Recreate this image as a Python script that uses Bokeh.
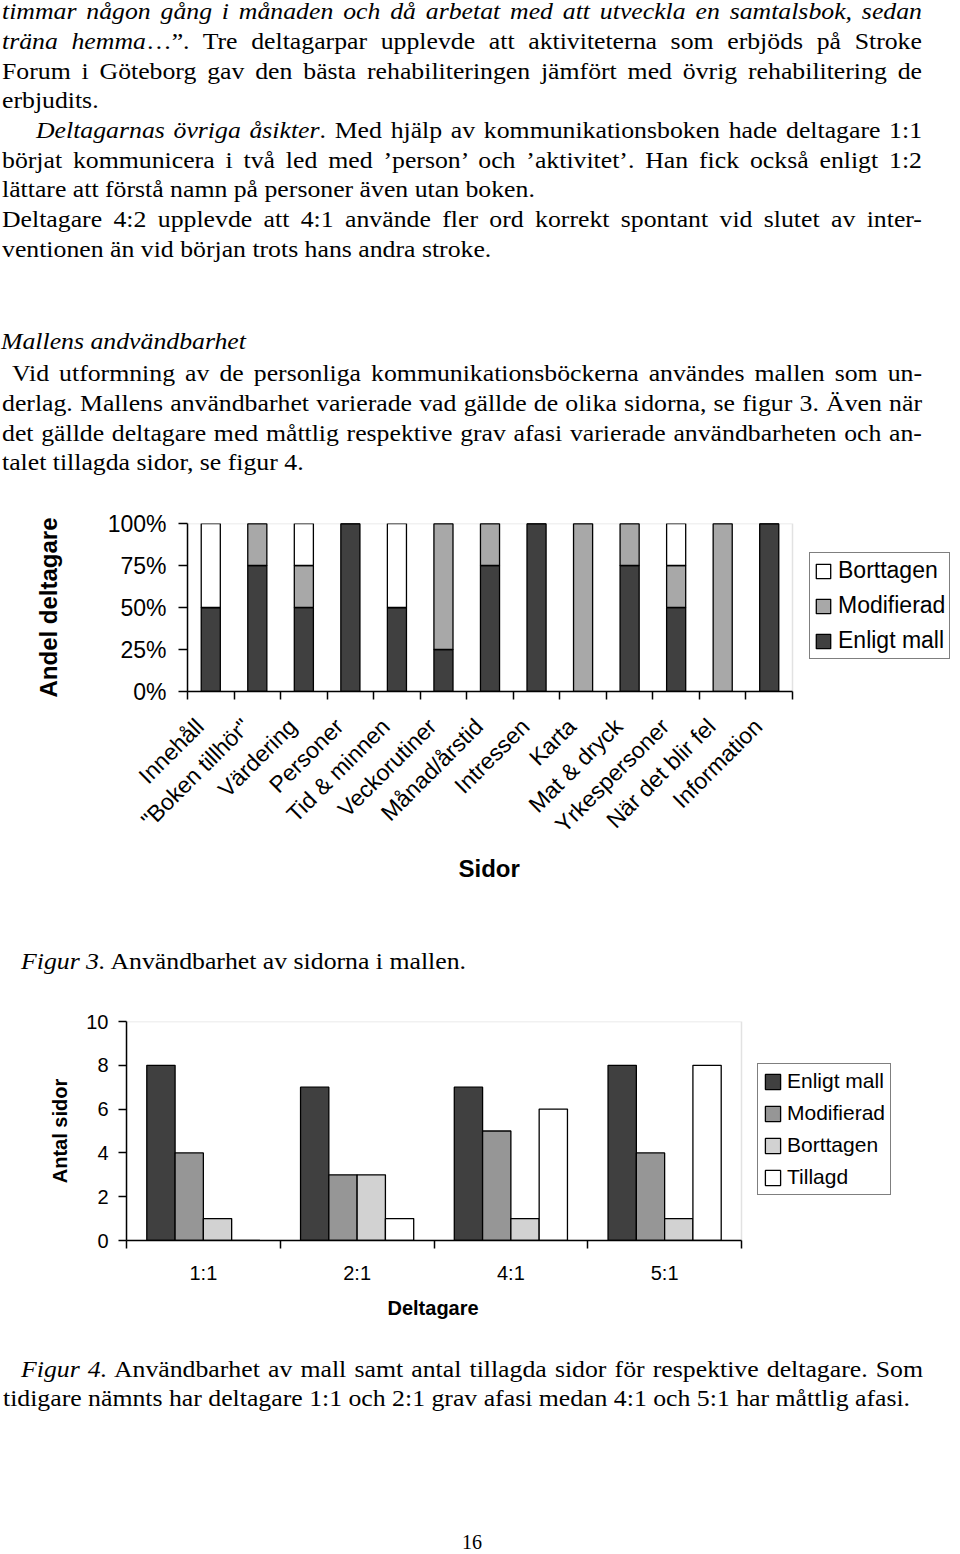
import math
from bokeh.plotting import figure
from bokeh.models import (Range1d, FixedTicker, PrintfTickFormatter, Legend, Title,
                          LegendItem, BoxAnnotation, Div, ColumnDataSource)
from bokeh.transform import dodge
from bokeh.embed import file_html
from bokeh.resources import INLINE

# ---------------- data: Figur 3 ----------------
sidor = ["Innehåll", "\"Boken tillhör\"", "Värdering", "Personer", "Tid & minnen",
         "Veckorutiner", "Månad/årstid", "Intressen", "Karta", "Mat & dryck",
         "Yrkespersoner", "När det blir fel", "Information"]
enligt_mall_pct = [50, 75, 50, 100, 50, 25, 75, 100, 0, 75, 50, 0, 100]
modifierad_pct = [0, 25, 25, 0, 0, 75, 25, 0, 100, 25, 25, 100, 0]
borttagen_pct = [50, 0, 25, 0, 50, 0, 0, 0, 0, 0, 25, 0, 0]
pct_ticks = [0, 25, 50, 75, 100]

# ---------------- data: Figur 4 ----------------
deltagare = ["1:1", "2:1", "4:1", "5:1"]
enligt_mall_n = [8, 7, 7, 8]
modifierad_n = [4, 3, 5, 4]
borttagen_n = [1, 3, 1, 1]
tillagd_n = [0, 1, 6, 8]
antal_ticks = [0, 2, 4, 6, 8, 10]

SANS = "Liberation Sans"
SERIF = "Liberation Serif"
DARK = "#404040"
GRAY1 = "#a8a8a8"
GRAY2 = "#969696"
LIGHT = "#d2d2d2"
FRAME_GRAY = "#a0a0a0"
PAGE_W = 960


# ---------------- text helpers ----------------
def line(html, x0, x1, base, div_top, justify=True, fs=23, s=1.12, lh=24):
    boff = (lh - 1.107 * fs) / 2 + 0.891 * fs
    top = base - div_top - boff
    w = (x1 - x0) / s
    align = "text-align:justify;text-align-last:justify;" if justify else "text-align:left;"
    return (f'<div style="position:absolute;left:{x0}px;top:{top:.1f}px;width:{w:.1f}px;'
            f'line-height:{lh}px;font-size:{fs}px;font-family:\'{SERIF}\';color:#000;'
            f'transform:scaleX({s});transform-origin:0 0;{align}">{html}</div>')


def block(lines, width, height):
    return (f'<div style="position:relative;width:{width}px;height:{height}px;">'
            + "".join(lines) + '</div>')


T1 = 0
text_lines = [
    line("<i>timmar någon gång i månaden och då arbetat med att utveckla en samtalsbok, sedan</i>", 2, 922, 20, T1),
    line("<i>träna hemma</i>…”. Tre deltagarpar upplevde att aktiviteterna som erbjöds på Stroke", 2, 922, 50, T1),
    line("Forum i Göteborg gav den bästa rehabiliteringen jämfört med övrig rehabilitering de", 2, 922, 80, T1),
    line("erbjudits.", 2, 900, 109, T1, justify=False),
    line("<i>Deltagarnas övriga åsikter</i>. Med hjälp av kommunikationsboken hade deltagare 1:1", 36, 922, 139, T1),
    line("börjat kommunicera i två led med ’person’ och ’aktivitet’. Han fick också enligt 1:2", 2, 922, 169, T1),
    line("lättare att förstå namn på personer även utan boken.", 2, 900, 198, T1, justify=False),
    line("Deltagare 4:2 upplevde att 4:1 använde fler ord korrekt spontant vid slutet av inter-", 2, 922, 228, T1),
    line("ventionen än vid början trots hans andra stroke.", 2, 900, 258, T1, justify=False),
    line("<i>Mallens andvändbarhet</i>", 1, 900, 350, T1, justify=False),
    line("Vid utformning av de personliga kommunikationsböckerna användes mallen som un-", 12, 922, 382, T1),
    line("derlag. Mallens användbarhet varierade vad gällde de olika sidorna, se figur 3. Även när", 2, 922, 412, T1),
    line("det gällde deltagare med måttlig respektive grav afasi varierade användbarheten och an-", 2, 922, 442, T1),
    line("talet tillagda sidor, se figur 4.", 2, 900, 471, T1, justify=False),
]
div1 = Div(text=block(text_lines, PAGE_W, 500), width=PAGE_W, height=500, margin=0)

# ---------------- Figur 3 ----------------
n1 = len(sidor)
centers1 = [i + 0.5 for i in range(n1)]
bounds1 = list(range(n1 + 1))
label_pos1 = [c - 0.24 for c in centers1]   # rotated labels end just left of the bar centre
src1 = ColumnDataSource(dict(x=centers1, enligt=enligt_mall_pct,
                             modifierad=modifierad_pct, borttagen=borttagen_pct))

# frame spans page x 187..960; the categories occupy 187..792, the rest holds the legend
F1_L, F1_R, C1_R = 187, PAGE_W, 792
x1_end = n1 * (F1_R - F1_L) / (C1_R - F1_L)
p1 = figure(width=PAGE_W, height=440, x_range=Range1d(0, x1_end), y_range=Range1d(0, 100),
            output_backend="svg", toolbar_location=None,
            min_border_left=F1_L, min_border_right=0, min_border_top=23,
            min_border_bottom=249,
            outline_line_color=None, background_fill_color="white", border_fill_color="white",
            margin=0)
p1.add_layout(BoxAnnotation(left=0, right=n1, bottom=0, top=100, fill_alpha=0,
                            line_color=FRAME_GRAY, line_width=1.5, level="underlay"))
r1 = p1.vbar_stack(["enligt", "modifierad", "borttagen"], x="x", width=0.41, source=src1,
                   fill_color=[DARK, GRAY1, "white"], line_color="black", line_width=1.3)
p1.xgrid.visible = False
p1.ygrid.visible = False

xa = p1.xaxis[0]
xa.bounds = (0, n1)
xa.ticker = FixedTicker(ticks=label_pos1, minor_ticks=bounds1)
xa.major_label_overrides = {c: s for c, s in zip(label_pos1, sidor)}
xa.major_label_orientation = math.pi / 4
xa.major_tick_out = 0
xa.major_tick_in = 0
xa.minor_tick_out = 8
xa.minor_tick_in = 0
xa.minor_tick_line_color = "black"
xa.minor_tick_line_width = 1.5
xa.axis_line_width = 1.5
xa.major_label_text_font = SANS
xa.major_label_text_font_size = "23px"
xa.major_label_text_color = "black"
xa.major_label_standoff = 23

ya = p1.yaxis[0]
ya.ticker = FixedTicker(ticks=pct_ticks, minor_ticks=[])
ya.formatter = PrintfTickFormatter(format="%d%%")
ya.major_tick_out = 9
ya.major_tick_in = 0
ya.major_tick_line_width = 1.5
ya.axis_line_width = 1.5
ya.major_label_text_font = SANS
ya.major_label_text_font_size = "23px"
ya.major_label_text_color = "black"
ya.major_label_standoff = 12
ya.axis_label = "Andel deltagare"
ya.axis_label_text_font = SANS
ya.axis_label_text_font_size = "24px"
ya.axis_label_text_font_style = "bold"
ya.axis_label_text_color = "black"
ya.axis_label_standoff = 43

# x-axis title, centred under the category area (page x 489)
p1.add_layout(Title(text="Sidor", align="left", offset=271, vertical_align="top", standoff=10,
                    text_font=SANS, text_font_size="24px", text_font_style="bold",
                    text_color="black"), "below")

leg1 = Legend(items=[LegendItem(label="Borttagen", renderers=[r1[2]]),
                     LegendItem(label="Modifierad", renderers=[r1[1]]),
                     LegendItem(label="Enligt mall", renderers=[r1[0]])],
              location=(809 - F1_L, 691 - 659), orientation="vertical",
              label_text_font=SANS, label_text_font_size="23px", label_text_color="black",
              glyph_width=18, glyph_height=18, label_standoff=6, padding=4, spacing=8,
              margin=0, border_line_color="black", border_line_width=1.5,
              background_fill_color="white", background_fill_alpha=1.0)
p1.add_layout(leg1, "center")

# ---------------- caption Figur 3 ----------------
T2 = 940
div2 = Div(text=block([line("<i>Figur 3.</i> Användbarhet av sidorna i mallen.", 21, 900, 970, T2,
                            justify=False)], PAGE_W, 50),
           width=PAGE_W, height=50, margin=0)

# ---------------- Figur 4 ----------------
n2 = len(deltagare)
centers2 = [i + 0.5 for i in range(n2)]
bounds2 = list(range(n2 + 1))
bw = 0.184
offsets = [-1.5 * bw, -0.5 * bw, 0.5 * bw, 1.5 * bw]
src2 = ColumnDataSource(dict(c=centers2, enligt=enligt_mall_n, modifierad=modifierad_n,
                             borttagen=borttagen_n, tillagd=tillagd_n))

F2_L, F2_R, C2_R = 126, 940, 741
x2_end = n2 * (F2_R - F2_L) / (C2_R - F2_L)
p2 = figure(width=PAGE_W, height=350, x_range=Range1d(0, x2_end), y_range=Range1d(0, 10),
            output_backend="svg", toolbar_location=None,
            min_border_left=F2_L, min_border_right=PAGE_W - F2_R, min_border_top=31,
            min_border_bottom=100,
            outline_line_color=None, background_fill_color="white", border_fill_color="white",
            margin=0)
p2.add_layout(BoxAnnotation(left=0, right=n2, bottom=0, top=10, fill_alpha=0,
                            line_color=FRAME_GRAY, line_width=1.5, level="underlay"))
series2 = [("enligt", DARK, "Enligt mall"), ("modifierad", GRAY2, "Modifierad"),
           ("borttagen", LIGHT, "Borttagen"), ("tillagd", "white", "Tillagd")]
items2 = []
for (field, col, lab), off in zip(series2, offsets):
    r = p2.vbar(x=dodge("c", off), top=field, width=bw, bottom=0, source=src2,
                fill_color=col, line_color="black", line_width=1.3)
    items2.append(LegendItem(label=lab, renderers=[r]))
p2.xgrid.visible = False
p2.ygrid.visible = False

xa2 = p2.xaxis[0]
xa2.bounds = (0, n2)
xa2.ticker = FixedTicker(ticks=centers2, minor_ticks=bounds2)
xa2.major_label_overrides = {c: s for c, s in zip(centers2, deltagare)}
xa2.major_tick_out = 0
xa2.major_tick_in = 0
xa2.minor_tick_out = 8
xa2.minor_tick_in = 0
xa2.minor_tick_line_color = "black"
xa2.minor_tick_line_width = 1.5
xa2.axis_line_width = 1.5
xa2.major_label_text_font = SANS
xa2.major_label_text_font_size = "20px"
xa2.major_label_text_color = "black"
xa2.major_label_standoff = 13

ya2 = p2.yaxis[0]
ya2.ticker = FixedTicker(ticks=antal_ticks, minor_ticks=[])
ya2.major_tick_out = 8
ya2.major_tick_in = 0
ya2.major_tick_line_width = 1.5
ya2.axis_line_width = 1.5
ya2.major_label_text_font = SANS
ya2.major_label_text_font_size = "20px"
ya2.major_label_text_color = "black"
ya2.major_label_standoff = 10
ya2.axis_label = "Antal sidor"
ya2.axis_label_text_font = SANS
ya2.axis_label_text_font_size = "20px"
ya2.axis_label_text_font_style = "bold"
ya2.axis_label_text_color = "black"
ya2.axis_label_standoff = 12

# x-axis title, centred under the category area (page x 433)
p2.add_layout(Title(text="Deltagare", align="left", offset=261, vertical_align="top", standoff=20,
                    text_font=SANS, text_font_size="20px", text_font_style="bold",
                    text_color="black"), "below")

leg2 = Legend(items=items2, location=(757 - F2_L, 1240 - 1195), orientation="vertical",
              label_text_font=SANS, label_text_font_size="21px", label_text_color="black",
              glyph_width=19, glyph_height=19, label_standoff=5, padding=5, spacing=8,
              margin=0, border_line_color="black", border_line_width=1.5,
              background_fill_color="white", background_fill_alpha=1.0)
p2.add_layout(leg2, "center")

# ---------------- caption Figur 4 + page number ----------------
T3 = 1340
div3 = Div(text=block([
    line("<i>Figur 4.</i> Användbarhet av mall samt antal tillagda sidor för respektive deltagare. Som",
         21, 923, 1378, T3),
    line("tidigare nämnts har deltagare 1:1 och 2:1 grav afasi medan 4:1 och 5:1 har måttlig afasi.",
         3, 940, 1407, T3, justify=False),
    line("16", 462, 600, 1549, T3, justify=False, fs=20, s=1.0, lh=20),
], PAGE_W, 212), width=PAGE_W, height=212, margin=0)

with open("out.html", "w", encoding="utf-8") as f:
    f.write(file_html([div1, p1, div2, p2, div3], INLINE))
